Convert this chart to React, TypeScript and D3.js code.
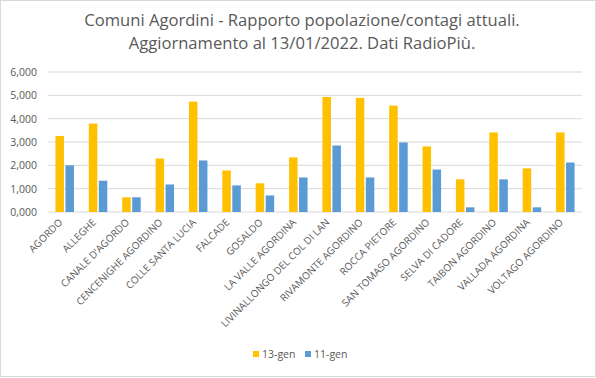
import React from "react";
import * as d3 from "d3";

const categories = [
  "AGORDO", "ALLEGHE", "CANALE D'AGORDO", "CENCENIGHE AGORDINO", "COLLE SANTA LUCIA",
  "FALCADE", "GOSALDO", "LA VALLE AGORDINA", "LIVINALLONGO DEL COL DI LAN",
  "RIVAMONTE AGORDINO", "ROCCA PIETORE", "SAN TOMASO AGORDINO", "SELVA DI CADORE",
  "TAIBON AGORDINO", "VALLADA AGORDINA", "VOLTAGO AGORDINO",
];
const series13 = [3.26, 3.79, 0.63, 2.29, 4.73, 1.78, 1.23, 2.34, 4.93, 4.89, 4.56, 2.81, 1.40, 3.41, 1.87, 3.41];
const series11 = [2.0, 1.34, 0.63, 1.18, 2.21, 1.14, 0.71, 1.48, 2.85, 1.48, 2.98, 1.82, 0.20, 1.40, 0.20, 2.12];
const seriesNames = ["13-gen", "11-gen"];
const yTicks = [0, 1, 2, 3, 4, 5, 6];
const titleLines = [
  "Comuni Agordini - Rapporto popolazione/contagi attuali.",
  "Aggiornamento al 13/01/2022. Dati RadioPiù.",
];

const W = 596, H = 378;
const colors = ["#FFC000", "#5B9BD5"];
const textColor = "#595959";
const font = "'Open Sans', 'Liberation Sans', sans-serif";

export default function App() {
  const left = 48, right = 582, top = 72, bottom = 212;
  const x = d3.scaleBand<string>().domain(categories).range([left, right]).padding(0);
  const y = d3.scaleLinear().domain([0, 6]).range([bottom, top]);
  const fmt = (v: number) => d3.format(".3f")(v).replace(".", ",");
  const bw = 8.5, gap = 1.5;
  const rows = [series13, series11];
  return (
    <svg width={W} height={H} style={{ position: "absolute", left: 0, top: 0, fontFamily: font }}>
      <rect x={0.5} y={0.5} width={W - 1} height={H - 2} fill="#fff" stroke="#D9D9D9" />
      {titleLines.map((t, i) => (
        <text key={i} x={302} y={26 + i * 23} textAnchor="middle" fontSize={16.6} fill={textColor}>{t}</text>
      ))}
      {yTicks.map((t) => (
        <g key={t}>
          <line x1={left} x2={right} y1={y(t)} y2={y(t)} stroke="#D9D9D9" strokeWidth={1} />
          <text x={37} y={y(t) + 4} textAnchor="end" fontSize={10.5} fill={textColor}>{fmt(t)}</text>
        </g>
      ))}
      {categories.map((c, i) => {
        const cx = x(c)! + x.bandwidth() / 2;
        return (
          <g key={c}>
            {rows.map((r, s) => (
              <rect key={s} x={s === 0 ? cx - gap / 2 - bw : cx + gap / 2} y={y(r[i])} width={bw}
                height={bottom - y(r[i])} fill={colors[s]} />
            ))}
            <text transform={`translate(${cx - 1.5},${bottom + 11}) rotate(-45)`} textAnchor="end"
              fontSize={10} fill={textColor}>{c}</text>
          </g>
        );
      })}
      {seriesNames.map((n, s) => {
        const lx = s === 0 ? 253 : 305;
        return (
          <g key={n}>
            <rect x={lx} y={351} width={6} height={6} fill={colors[s]} />
            <text x={lx + 9} y={358} fontSize={10.5} fill={textColor}>{n}</text>
          </g>
        );
      })}
    </svg>
  );
}
